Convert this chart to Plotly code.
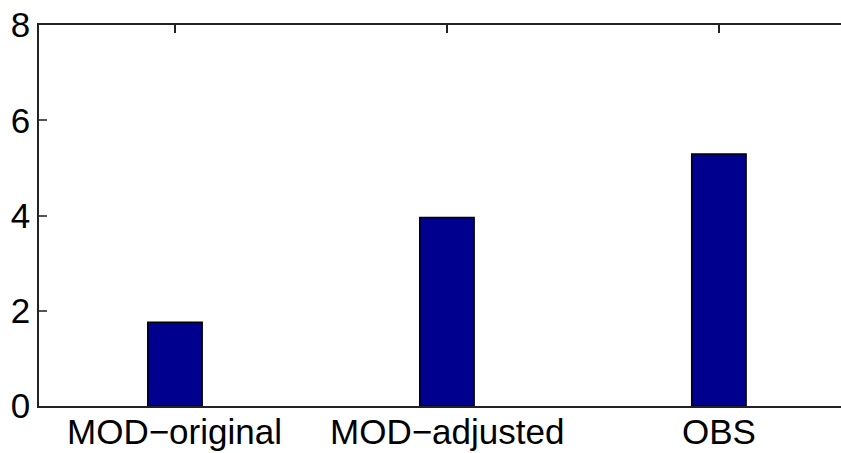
import plotly.graph_objects as go

# Category labels and values
categories = ["MOD\u2212original", "MOD\u2212adjusted", "OBS"]
positions = [1, 2, 3]
values = [1.76, 3.96, 5.29]
y_ticks = [0, 2, 4, 6, 8]

fig = go.Figure(
    go.Bar(
        x=positions,
        y=values,
        width=0.2,
        marker=dict(color="#00008F", line=dict(color="#000000", width=1.5)),
    )
)

axis_font = dict(family="Liberation Sans, Arial, sans-serif", size=35, color="#000000")

# Category names placed under the axis
for pos, name in zip(positions, categories):
    fig.add_annotation(
        x=pos, xref="x", y=0, yref="paper",
        text=name, showarrow=False,
        xanchor="center", yanchor="top",
        yshift=-5, borderpad=0,
        font=axis_font,
    )

fig.update_layout(
    width=841,
    height=453,
    margin=dict(l=39, r=0, t=25, b=47),
    paper_bgcolor="white",
    plot_bgcolor="white",
    showlegend=False,
    font=axis_font,
    xaxis=dict(
        range=[0.5, 3.449],
        tickmode="array",
        tickvals=positions,
        showticklabels=False,
        ticks="inside",
        ticklen=8,
        tickwidth=1.5,
        tickcolor="#222222",
        showline=True,
        linecolor="#222222",
        linewidth=1.5,
        mirror="ticks",
        showgrid=False,
        zeroline=False,
        automargin=False,
        layer="below traces",
    ),
    yaxis=dict(
        range=[0, 8],
        tickmode="array",
        tickvals=y_ticks,
        ticktext=[str(v) for v in y_ticks],
        ticks="inside",
        ticklen=8,
        tickwidth=1.5,
        tickcolor="#555555",
        showline=True,
        linecolor="#222222",
        linewidth=1.5,
        mirror=False,
        showgrid=False,
        zeroline=False,
        tickfont=axis_font,
        automargin=False,
        layer="below traces",
    ),
)

fig.write_html("out.html")
